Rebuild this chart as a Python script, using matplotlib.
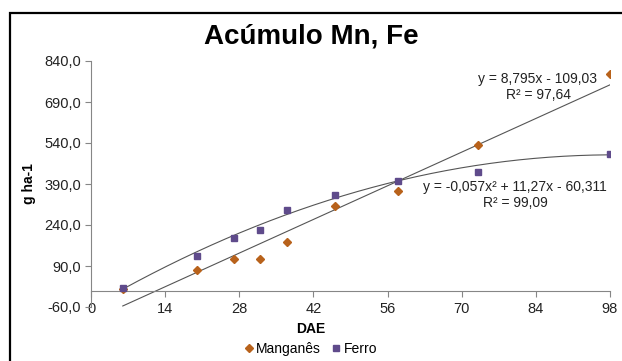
import numpy as np
import matplotlib.pyplot as plt
from matplotlib.patches import Rectangle

plt.rcParams['font.family'] = ['Liberation Sans', 'DejaVu Sans']

# Dias após emergência e acúmulo (g ha-1)
dae_mn = [6, 20, 27, 32, 37, 46, 58, 73, 98]
manganes = [5, 74, 116, 116, 177, 311, 366, 534, 791]
dae_fe = [6, 20, 27, 32, 37, 46, 58, 73, 98]
ferro = [10, 128, 194, 223, 296, 351, 402, 435, 498]

# Coeficientes das linhas de tendência
lin_mn = (8.795, -109.03)
quad_fe = (-0.057, 11.27, -60.311)

x_ticks = [0, 14, 28, 42, 56, 70, 84, 98]
y_ticks = [-60, 90, 240, 390, 540, 690, 840]

cor_mn = '#B8621B'
cor_fe = '#5F4B8B'
cinza = '#868686'

W, H = 622, 361
fig = plt.figure(figsize=(W / 100, H / 100), dpi=100)
ax = fig.add_axes([91 / W, 1 - 307 / H, 519 / W, 246 / H])

# borda do gráfico
fig.patches.append(Rectangle((9.5 / W, -0.05), 1.1, 1 - 12.5 / H + 0.05,
                             transform=fig.transFigure, fill=False,
                             edgecolor='black', linewidth=1.6))

# tendências
xs = np.linspace(min(dae_mn), max(dae_mn), 200)
ax.plot(xs, np.polyval(lin_mn, xs), color='#555555', lw=0.8, zorder=2)
xs = np.linspace(min(dae_fe), max(dae_fe), 200)
ax.plot(xs, np.polyval(quad_fe, xs), color='#555555', lw=0.8, zorder=2)

ax.plot(dae_mn, manganes, 'D', color=cor_mn, ms=3.8, ls='none', label='Manganês', zorder=3)
ax.plot(dae_fe, ferro, 's', color=cor_fe, ms=5, ls='none', label='Ferro', zorder=4)

ax.set_xlim(0, 98)
ax.set_ylim(-60, 840)
ax.set_xticks(x_ticks)
ax.set_yticks(y_ticks)
ax.set_yticklabels([f'{v:.1f}'.replace('.', ',') for v in y_ticks])

for s in ['top', 'right']:
    ax.spines[s].set_visible(False)
ax.spines['bottom'].set_position(('data', 0))
ax.spines['bottom'].set_color(cinza)
ax.spines['left'].set_color(cinza)
ax.tick_params(axis='both', colors=cinza, labelcolor='#222222', labelsize=10.5,
               length=4, width=0.8)
ax.tick_params(axis='x', pad=4)
ax.tick_params(axis='y', pad=3)

ax.set_ylabel('g ha-1', fontsize=10, fontweight='bold', labelpad=6)
fig.text(311 / W, 1 - 329 / H, 'DAE', ha='center', va='center',
         fontsize=10, fontweight='bold')

fig.text(311 / W, 1 - 37 / H, 'Acúmulo Mn, Fe', ha='center', va='center',
         fontsize=20, fontweight='bold')

fig.text(538 / W, 1 - 87 / H, 'y = 8,795x - 109,03\nR² = 97,64',
         ha='center', va='center', fontsize=10, color='#222222', linespacing=1.25)
fig.text(515 / W, 1 - 195 / H, 'y = -0,057x² + 11,27x - 60,311\nR² = 99,09',
         ha='center', va='center', fontsize=10, color='#222222', linespacing=1.25)

fig.legend(loc='center', bbox_to_anchor=(311 / W, 1 - 349 / H), ncol=2,
           frameon=False, fontsize=10, handlelength=0.6, handletextpad=0.25,
           columnspacing=0.8, borderpad=0)

fig.savefig('out.png', dpi=100)
